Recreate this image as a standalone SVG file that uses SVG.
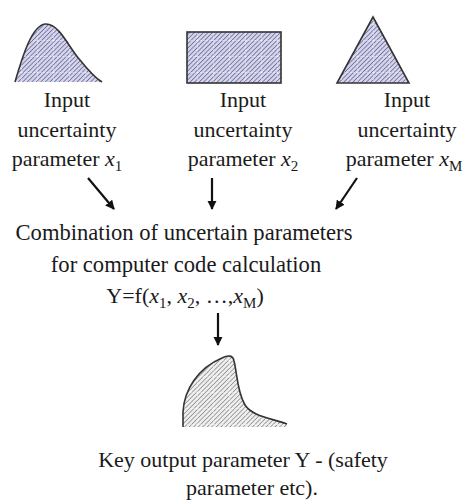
<svg xmlns="http://www.w3.org/2000/svg" width="468" height="504" viewBox="0 0 468 504">
<style>
text{font-family:"Liberation Serif","Times New Roman",serif;font-size:22px;fill:#1a1a1a;text-anchor:middle}
.big{font-size:22.6px}
.it{font-style:italic}
.outline{fill:none;stroke:#333;stroke-width:1.6}
.arr{stroke:#111;stroke-width:2.2;fill:none;marker-end:url(#ah)}
</style>
<defs>
<marker id="ah" viewBox="0 0 10 10" refX="9" refY="5" markerWidth="4.2" markerHeight="4.2" orient="auto" markerUnits="strokeWidth">
<path d="M0,0 L10,5 L0,10 Z" fill="#111"/>
</marker>
<pattern id="hb" width="3.2" height="3.2" patternUnits="userSpaceOnUse" patternTransform="rotate(45)">
<rect width="3.2" height="3.2" fill="#d6d6ea"/>
<line x1="0" y1="0" x2="0" y2="3.2" stroke="#6e6ea2" stroke-width="1.7"/>
</pattern>
<pattern id="hg" width="3.2" height="3.2" patternUnits="userSpaceOnUse" patternTransform="rotate(45)">
<rect width="3.2" height="3.2" fill="#eeeeee"/>
<line x1="0" y1="0" x2="0" y2="3.2" stroke="#8a8a8a" stroke-width="1.5"/>
</pattern>
<pattern id="grid" width="16" height="16" patternUnits="userSpaceOnUse" x="5" y="8">
<path d="M0,0 V16 M0,0 H16" stroke="#fff" stroke-width="1" stroke-dasharray="2 1" opacity="0.8" fill="none"/>
</pattern>
</defs>

<g id="connectors">
<line class="arr" x1="88" y1="178" x2="114" y2="209"/>
<line class="arr" x1="212" y1="178" x2="212" y2="209"/>
<line class="arr" x1="357" y1="178" x2="336" y2="209"/>
<line class="arr" x1="218" y1="313" x2="218" y2="345"/>
</g>

<g id="input1">
<path d="M15,82 C22,58 32,24 46,24 C60,24 70,50 80,60 C88,70 95,78 102,82 Z" fill="url(#hb)"/>
<path d="M15,82 C22,58 32,24 46,24 C60,24 70,50 80,60 C88,70 95,78 102,82 Z" fill="url(#grid)"/>
<path class="outline" d="M15,82 C22,58 32,24 46,24 C60,24 70,50 80,60 C88,70 95,78 102,82"/>
<text x="67" y="107">Input</text>
<text x="67" y="137">uncertainty</text>
<text x="67" y="166">parameter <tspan class="it">x</tspan><tspan font-size="15" dy="5">1</tspan></text>
</g>

<g id="input2">
<rect x="187" y="32" width="94" height="51" fill="url(#hb)"/>
<rect x="187" y="32" width="94" height="51" fill="url(#grid)"/>
<rect class="outline" x="187" y="32" width="94" height="51"/>
<text x="243" y="107">Input</text>
<text x="243" y="137">uncertainty</text>
<text x="243" y="166">parameter <tspan class="it">x</tspan><tspan font-size="15" dy="5">2</tspan></text>
</g>

<g id="inputM">
<path d="M373,17 L409,83 L337,83 Z" fill="url(#hb)"/>
<path d="M373,17 L409,83 L337,83 Z" fill="url(#grid)"/>
<path class="outline" d="M373,17 L409,83 L337,83 Z"/>
<text x="407" y="107">Input</text>
<text x="407" y="137">uncertainty</text>
<text x="404" y="166">parameter <tspan class="it">x</tspan><tspan font-size="15" dy="5">M</tspan></text>
</g>

<g id="combination">
<text class="big" x="184" y="240">Combination of uncertain parameters</text>
<text class="big" x="186" y="272">for computer code calculation</text>
<text x="185" y="303">Y=f(<tspan class="it">x</tspan><tspan font-size="15" dy="5">1</tspan><tspan dy="-5">, </tspan><tspan class="it">x</tspan><tspan font-size="15" dy="5">2</tspan><tspan dy="-5">, …,</tspan><tspan class="it">x</tspan><tspan font-size="15" dy="5">M</tspan><tspan dy="-5">)</tspan></text>
</g>

<g id="output">
<path d="M183,427 L183,412 C184,390 198,368 222,358 C228,355 233,355 234,361 C237,372 237,392 245,405 C252,416 270,418 287,424 L287,427 Z" fill="url(#hg)"/>
<path d="M183,427 L183,412 C184,390 198,368 222,358 C228,355 233,355 234,361 C237,372 237,392 245,405 C252,416 270,418 287,424 L287,427 Z" fill="url(#grid)"/>
<path class="outline" d="M183,427 L183,412 C184,390 198,368 222,358 C228,355 233,355 234,361 C237,372 237,392 245,405 C252,416 270,418 287,424"/>
<text x="243" y="467">Key output parameter Y - (safety</text>
<text x="252" y="495">parameter etc).</text>
</g>
</svg>
